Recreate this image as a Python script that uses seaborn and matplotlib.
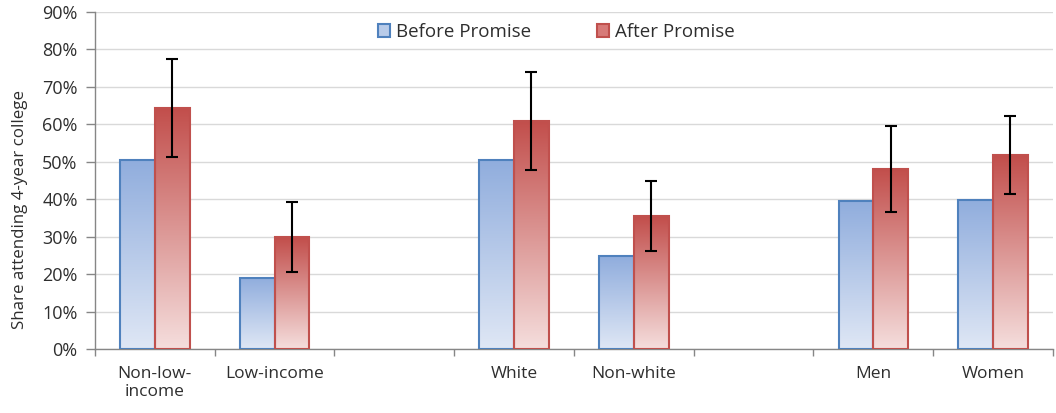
import numpy as np
import pandas as pd
import matplotlib.pyplot as plt
import matplotlib.ticker as mticker
from matplotlib.colors import LinearSegmentedColormap
from matplotlib.patches import Patch
import seaborn as sns

categories = ["Non-low-\nincome", "Low-income", "gap1", "White", "Non-white", "gap2", "Men", "Women"]
groups = ["Non-low-\nincome", "Low-income", "White", "Non-white", "Men", "Women"]
before = [0.505, 0.190, 0.505, 0.248, 0.395, 0.398]
after = [0.644, 0.299, 0.609, 0.355, 0.481, 0.518]
after_err = [0.130, 0.093, 0.131, 0.094, 0.115, 0.104]

df = pd.DataFrame({
    "group": groups * 2,
    "period": ["Before Promise"] * len(groups) + ["After Promise"] * len(groups),
    "share": before + after,
})

sns.set_theme(style="white")
plt.rcParams["font.family"] = ["Open Sans", "DejaVu Sans"]
TXT = "#2e2e2e"

BLUE_EDGE, RED_EDGE = "#4f81bd", "#c0504d"
blue_cm = LinearSegmentedColormap.from_list("b", ["#dfe7f5", "#90addd"])
red_cm = LinearSegmentedColormap.from_list("r", ["#f5dedd", "#c24e4b"])

fig = plt.figure(figsize=(10.56, 4.13), dpi=100)
ax = fig.add_axes([0.09, 0.155, 0.907, 0.816])

sns.barplot(data=df, x="group", y="share", hue="period", order=categories,
            hue_order=["Before Promise", "After Promise"], width=0.58,
            palette=["#b8cbe9", "#dc9896"], ax=ax, legend=False, zorder=2)

# gradient fill, clipped to each bar
grad = np.linspace(0, 1, 256).reshape(-1, 1)
red_x = []
for p in ax.patches:
    h = p.get_height()
    if np.isnan(h) or h == 0:
        continue
    x0, w = p.get_x(), p.get_width()
    is_red = p.get_facecolor()[0] > 0.7 and p.get_facecolor()[2] < 0.7
    cm = red_cm if is_red else blue_cm
    im = ax.imshow(grad, cmap=cm, origin="lower", aspect="auto",
                   extent=[x0, x0 + w, 0, h], zorder=2)
    im.set_clip_path(p)
    p.set_facecolor("none")
    p.set_edgecolor(RED_EDGE if is_red else BLUE_EDGE)
    p.set_linewidth(1.5)
    p.set_zorder(3)
    if is_red:
        red_x.append(x0 + w / 2)

red_x.sort()
ax.errorbar(red_x, after, yerr=after_err, fmt="none",
            ecolor="black", elinewidth=1.5, capsize=4, capthick=1.5, zorder=4)

ax.set_xlim(-0.5, len(categories) - 0.5)
ax.set_ylim(0, 0.9)
ax.yaxis.set_major_locator(mticker.MultipleLocator(0.1))
ax.yaxis.set_major_formatter(mticker.PercentFormatter(1.0, decimals=0))
ax.grid(axis="y", color="#d9d9d9", linewidth=1, zorder=0)
ax.set_axisbelow(True)

# tick marks sit between categories, labels in the middle
ax.set_xticks(np.arange(-0.5, len(categories), 1.0))
ax.set_xticklabels([])
ax.set_xticks(range(len(categories)), minor=True)
ax.set_xticklabels([c if not c.startswith("gap") else "" for c in categories], minor=True)
ax.tick_params(axis="x", which="major", length=5, width=1, color="#868686", direction="out", bottom=True)
ax.tick_params(axis="x", which="minor", length=0, pad=12, labelsize=12.5, labelcolor=TXT)
ax.tick_params(axis="y", which="major", length=6.5, width=1, color="#868686", left=True,
               labelsize=13, labelcolor=TXT, pad=6)
ax.set_xlabel("")
ax.set_ylabel("Share attending 4-year college", fontsize=12.2, color=TXT)
ax.yaxis.set_label_coords(-0.07, 0.415)

for s in ["top", "right"]:
    ax.spines[s].set_visible(False)
for s in ["left", "bottom"]:
    ax.spines[s].set_color("#868686")
    ax.spines[s].set_linewidth(1)

handles = [Patch(facecolor="#b8cbe9", edgecolor=BLUE_EDGE, linewidth=1.5, label="Before Promise"),
           Patch(facecolor="#d77a78", edgecolor=RED_EDGE, linewidth=1.5, label="After Promise")]
ax.legend(handles=handles, loc="center", bbox_to_anchor=(0.482, 0.94), ncol=2, frameon=False,
          fontsize=13.5, handlelength=0.64, handleheight=0.64, handletextpad=0.32,
          columnspacing=3.5, labelcolor=TXT)

fig.savefig("out.png", dpi=100, facecolor="white")
